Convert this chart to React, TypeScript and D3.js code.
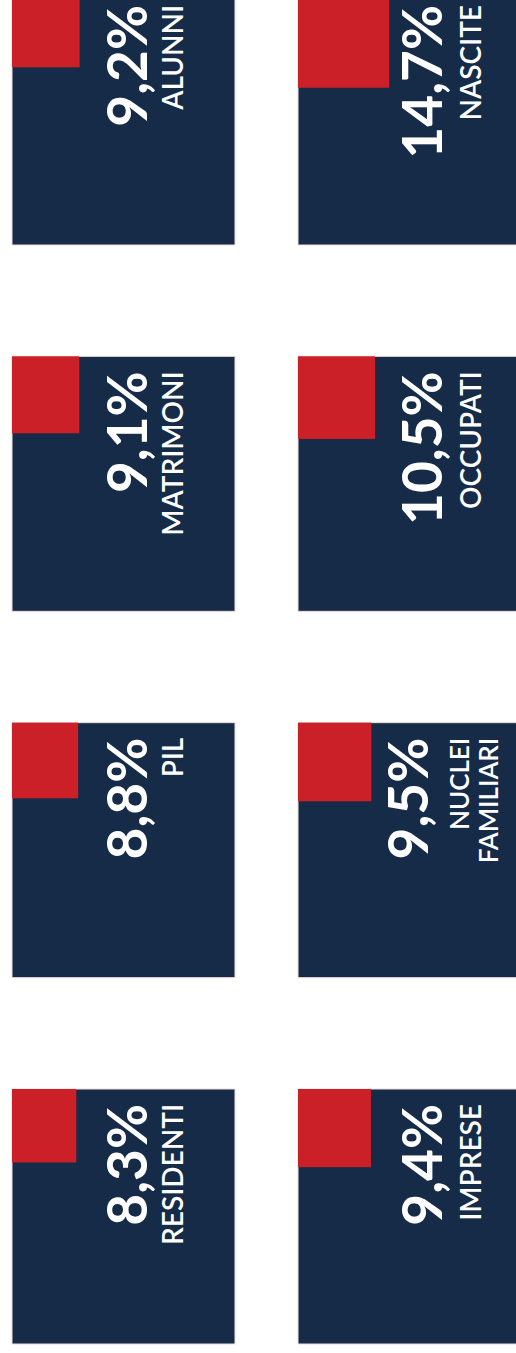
import React from 'react';
import * as d3 from 'd3';

const labels = ['ALUNNI', 'MATRIMONI', 'PIL', 'RESIDENTI', 'NASCITE', 'OCCUPATI', 'NUCLEI FAMILIARI', 'IMPRESE'];
const values = [9.2, 9.1, 8.8, 8.3, 14.7, 10.5, 9.5, 9.4];
const columns = ['left', 'left', 'left', 'left', 'right', 'right', 'right', 'right'];
const rows = [0, 1, 2, 3, 0, 1, 2, 3];

const width = 516;
const height = 1353;
const navy = '#162b48';
const red = '#cc2028';
const boxH = 255;
const boxW = { left: 223, right: 238 };

const itFormat = d3.formatLocale({ decimal: ',', thousands: '.', grouping: [3], currency: ['', '€'] }).format('.1f');

export default function App() {
  const x = d3.scalePoint().domain(['left', 'right']).range([12, 298]);
  const y = d3.scalePoint<number>().domain([0, 1, 2, 3]).range([-10, 1089]);
  const share = d3.scaleSqrt().domain([0, 100]).range([0, 1]);

  return (
    <svg width={width} height={height} style={{ position: 'absolute', left: 0, top: 0, background: '#fff' }}>
      {labels.map((lab, i) => {
        const col = columns[i] as 'left' | 'right';
        const bx = x(col) as number;
        const by = y(rows[i]) as number;
        const w = boxW[col];
        const k = share(values[i]);
        const lines = lab.split(' ');
        const n = lines.length;
        // con due righe di etichetta il numero si sposta un po'
        const numX = bx + w * 0.605 - (n - 1) * 14;
        const labX = bx + w * 0.767 - (n - 1) * 12;
        const ty = by + 15;
        return (
          <g key={lab}>
            <rect x={bx} y={by} width={w} height={boxH} fill={navy} stroke="#f2dcdc" strokeWidth={1} />
            <rect x={bx} y={by} width={w * k} height={boxH * k} fill={red} />
            <text
              transform={`translate(${numX},${ty}) rotate(-90)`}
              textAnchor="end"
              fill="#fff"
              fontFamily="Lato, 'Open Sans', sans-serif"
              fontWeight={700}
              fontSize={55}
            >
              {itFormat(values[i])}%
            </text>
            {lines.map((ln, j) => (
              <text
                key={ln}
                transform={`translate(${labX + j * 29},${ty}) rotate(-90)`}
                textAnchor="end"
                fill="#fff"
                fontFamily="Lato, 'Open Sans', sans-serif"
                fontWeight={600}
                fontSize={n > 1 ? 26 : 28}
              >
                {ln}
              </text>
            ))}
          </g>
        );
      })}
    </svg>
  );
}
